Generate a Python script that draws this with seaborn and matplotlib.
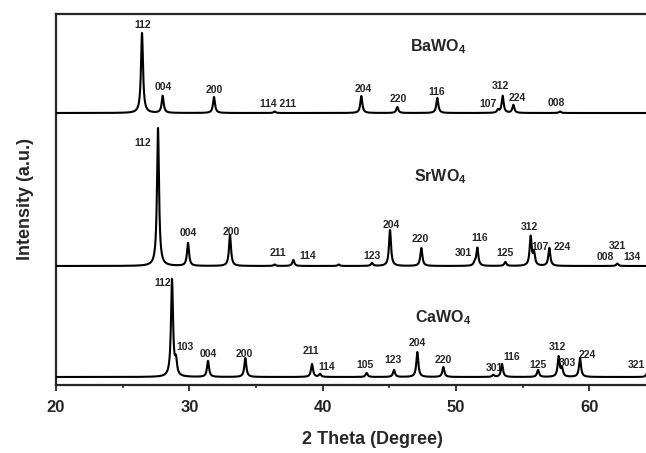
import numpy as np
import pandas as pd
import matplotlib
matplotlib.use("Agg")
import matplotlib.pyplot as plt
import seaborn as sns

# peak positions (2 theta) and heights (a.u.)
ba_pos = [26.45, 28.0, 31.85, 36.4, 42.9, 45.6, 48.6, 53.15, 53.5, 54.3, 57.8]
ba_h = [80, 17, 16, 1.5, 17, 6, 15, 3, 17, 8, 1.5]

sr_pos = [27.65, 29.9, 33.05, 36.4, 37.8, 41.2, 43.7, 45.05, 47.4, 51.4, 51.6,
          53.7, 55.6, 55.85, 57.0, 62.1]
sr_h = [138, 23, 31, 1.5, 6, 1.5, 3, 36, 18, 3, 18, 4, 29, 12, 18, 2.5]

ca_pos = [28.7, 29.0, 31.4, 34.2, 39.2, 39.8, 43.3, 45.35, 47.1, 49.05, 52.8,
          53.45, 56.15, 57.7, 57.95, 59.3, 64.3]
ca_h = [97, 14, 16, 19, 13, 3, 4, 7, 25, 10, 2, 13, 7, 20, 8, 19, 3]

# vertical offsets of the stacked patterns
offsets = {"Ba": 272, "Sr": 119, "Ca": 8}

# peak labels (text, 2theta, height)
ba_labels = [("112", 26.53, 360), ("004", 28.03, 298), ("200", 31.85, 295),
             ("114 211", 36.65, 281), ("204", 43.03, 296), ("220", 45.65, 286),
             ("116", 48.58, 293), ("312", 53.3, 299), ("107", 52.4, 281),
             ("224", 54.58, 287), ("008", 57.5, 282)]
sr_labels = [("112", 26.53, 242), ("004", 29.9, 152), ("200", 33.13, 153),
             ("211", 36.65, 132), ("114", 38.9, 129), ("123", 43.7, 129),
             ("204", 45.13, 160), ("220", 47.3, 146), ("301", 50.53, 132),
             ("116", 51.8, 147), ("125", 53.68, 132), ("312", 55.48, 158),
             ("107", 56.3, 138), ("224", 57.95, 138), ("321", 62.08, 139),
             ("008", 61.18, 128), ("134", 63.2, 128)]
ca_labels = [("112", 28.03, 102), ("103", 29.68, 38), ("004", 31.4, 31),
             ("200", 34.1, 31), ("211", 39.13, 34), ("114", 40.33, 18),
             ("105", 43.18, 20), ("123", 45.28, 25), ("204", 47.08, 42),
             ("220", 49.03, 25), ("301", 52.85, 17), ("116", 54.2, 28),
             ("125", 56.15, 20), ("312", 57.58, 38), ("303", 58.33, 22),
             ("224", 59.83, 30), ("321", 63.5, 20)]

names = [("BaWO$_{\\mathbf{4}}$", 48.65, 338), ("SrWO$_{\\mathbf{4}}$", 48.8, 208),
         ("CaWO$_{\\mathbf{4}}$", 49.03, 67)]


def pattern(tt, pos, h, gamma=0.09):
    y = np.zeros_like(tt)
    for p, a in zip(pos, h):
        y += a * gamma**2 / ((tt - p)**2 + gamma**2)
    return y


tt = np.linspace(20, 65, 9001)
frames = []
for key, pos, h in [("Ba", ba_pos, ba_h), ("Sr", sr_pos, sr_h), ("Ca", ca_pos, ca_h)]:
    frames.append(pd.DataFrame({"theta": tt,
                                "intensity": pattern(tt, pos, h) + offsets[key],
                                "sample": key}))
data = pd.concat(frames, ignore_index=True)

sns.set_style("ticks")
plt.rcParams["font.family"] = ["Liberation Sans", "DejaVu Sans"]
plt.rcParams["font.weight"] = "bold"
plt.rcParams["mathtext.fontset"] = "custom"
plt.rcParams["mathtext.rm"] = "Liberation Sans:bold"
plt.rcParams["mathtext.bf"] = "Liberation Sans:bold"

fig = plt.figure(figsize=(6.46, 4.53), dpi=100)
ax = fig.add_axes([56 / 646, 1 - 385 / 453, 600 / 646, 371 / 453])

for key in ["Ba", "Sr", "Ca"]:
    sns.lineplot(data=data[data["sample"] == key], x="theta", y="intensity",
                 color="black", linewidth=1.5, ax=ax, zorder=4, estimator=None)

for lab in [ba_labels, sr_labels, ca_labels]:
    for t, x, y in lab:
        ax.text(x, y, t, ha="center", va="center", fontsize=7.5,
                fontweight="bold", zorder=3)

for t, x, y in names:
    ax.text(x, y, t, ha="center", va="center", fontsize=11.5, fontweight="bold")

ax.set_xlim(20, 65)
ax.set_ylim(0, 371)
ax.set_yticks([])
ax.set_xticks([20, 30, 40, 50, 60])
ax.set_xticks([25, 35, 45, 55, 65], minor=True)
ax.tick_params(axis="x", which="major", direction="out", length=4, width=1.3,
               pad=7, labelsize=12)
ax.tick_params(axis="x", which="minor", direction="out", length=2.5, width=1.2)
for lbl in ax.get_xticklabels():
    lbl.set_fontweight("bold")
for s in ax.spines.values():
    s.set_linewidth(1.6)

ax.set_xlabel("2 Theta (Degree)", fontsize=13, fontweight="bold")
ax.xaxis.set_label_coords(0.528, -0.125)
ax.set_ylabel("Intensity (a.u.)", fontsize=13, fontweight="bold", labelpad=16)

fig.savefig("out.png", dpi=100)
